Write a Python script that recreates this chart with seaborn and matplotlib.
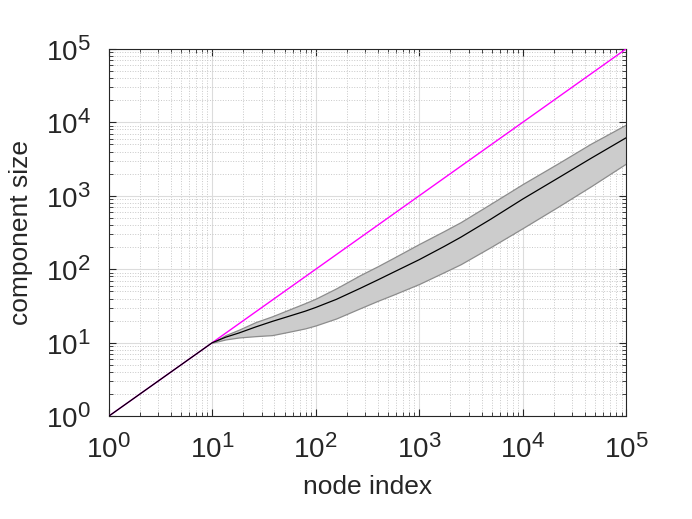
import numpy as np
import pandas as pd
import matplotlib
matplotlib.use("Agg")
import matplotlib.pyplot as plt
import matplotlib._mathtext as mathtext_internal
import seaborn as sns

# =========================
# Data (log-log)
# =========================
node_index = [1, 10, 13.5, 18.2, 26.3, 38.0, 55.0, 79.4, 100, 158, 269, 398, 575,
              1000, 1738, 2512, 4898, 10000, 21878, 45709, 100000]
median_size = [1, 10, 11.9, 13.6, 16.4, 19.5, 22.9, 26.9, 30.2, 38.9, 55.0, 71.6, 92.3,
               135, 204, 272, 479, 902, 1738, 3236, 6166]
# spread band starts at node 10
upper_size = [10, 12.7, 15.1, 19.1, 22.9, 28.2, 34.7, 39.8, 55.0, 83.2, 110, 145,
              221, 331, 437, 776, 1445, 2754, 5129, 9333]
lower_size = [10, 11.1, 11.8, 12.3, 12.7, 14.1, 15.7, 17.2, 21.4, 29.5, 37.2, 45.7,
              63.1, 91.2, 117, 200, 363, 708, 1349, 2754]
diag = [1, 100000]

df = pd.DataFrame({"node": node_index, "size": median_size})
band = pd.DataFrame({"node": node_index[1:], "lo": lower_size, "hi": upper_size})
ref = pd.DataFrame({"node": diag, "size": diag})

# =========================
# Style
# =========================
sns.set_theme(style="ticks")
plt.rcParams["font.family"] = ["Liberation Sans", "DejaVu Sans"]
plt.rcParams["mathtext.fontset"] = "custom"
plt.rcParams["mathtext.rm"] = "Liberation Sans"
plt.rcParams["mathtext.it"] = "Liberation Sans"
# bigger exponents, closer to the reference look
mathtext_internal.SHRINK_FACTOR = 0.8

fig = plt.figure(figsize=(6.92, 5.19), dpi=100)
ax = fig.add_axes([0.157, 0.198, 0.748, 0.708])

ax.fill_between(band["node"], band["lo"], band["hi"], facecolor="#cccccc",
                edgecolor="#8c8c8c", linewidth=0.9, zorder=2)
sns.lineplot(data=ref, x="node", y="size", color="#ff00ff", linewidth=1.0,
             estimator=None, ax=ax, zorder=3)
sns.lineplot(data=df, x="node", y="size", color="black", linewidth=0.9,
             estimator=None, ax=ax, zorder=4)

ax.set_xscale("log")
ax.set_yscale("log")
ax.set_xlim(1, 1e5)
ax.set_ylim(1, 1e5)
ax.set_xticks([1, 10, 100, 1000, 10000, 100000])
ax.set_yticks([1, 10, 100, 1000, 10000, 100000])

ax.grid(True, which="major", color="#dcdcdc", linestyle="-", linewidth=0.8, zorder=0)
ax.grid(True, which="minor", color="#c8c8c8", linestyle=":", linewidth=0.7, zorder=0)
ax.set_axisbelow(True)

ax.tick_params(which="both", direction="in", top=True, right=True, colors="#262626")
ax.tick_params(which="major", length=5, width=0.8, labelsize=20, pad=13)
ax.tick_params(which="minor", length=3, width=0.6)
for sp in ax.spines.values():
    sp.set_color("#262626")
    sp.set_linewidth(0.8)

ax.set_xlabel("node index", fontsize=19, color="#262626", labelpad=8)
ax.set_ylabel("component size", fontsize=19, color="#262626", labelpad=9)

fig.savefig("out.png", dpi=100)
